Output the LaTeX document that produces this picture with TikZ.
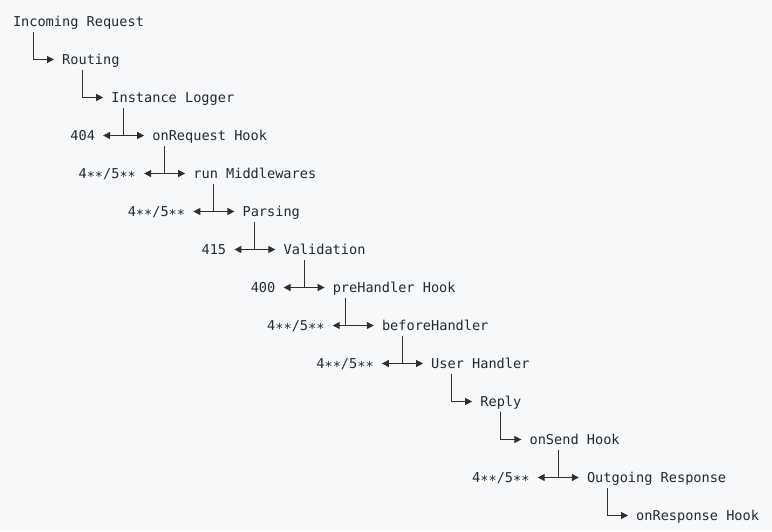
\documentclass[tikz,border=0pt]{standalone}
\usepackage{fontspec}
\newfontfamily\codefont{DejaVu Sans Mono}
\usetikzlibrary{arrows.meta,calc}
\definecolor{bgc}{HTML}{F6F8FA}
\definecolor{txt}{HTML}{24292E}
\definecolor{lnc}{HTML}{2F2F2F}
\newcommand\lowstar{\raisebox{-2.6pt}{*}}
\newcommand\errcode{4\lowstar\lowstar/5\lowstar\lowstar}
\tikzset{
  lbl/.style={anchor=base west,inner sep=0pt,outer sep=0pt,text=txt,font=\codefont\fontsize{13.6}{16}\selectfont},
  conn/.style={draw=lnc,line width=1.1pt},
  tip/.style={-{Triangle[length=7pt,width=7pt]}},
  dtip/.style={{Triangle[length=7pt,width=7pt]}-{Triangle[length=7pt,width=7pt]}}
}
\begin{document}
\begin{tikzpicture}[x=1pt,y=-1pt]
\fill[bgc] (0,0) rectangle (772,531);
\useasboundingbox (0,0) rectangle (772,531);
% column c -> x = 13 + 8.2 c ; row r -> baseline y = 26.5 + 38 r
\node[lbl] (n0) at (13,26.5) {Incoming Request};
\node[lbl] (n1) at (62.2,64.5) {Routing};
\node[lbl] (n2) at (111.4,102.5) {Instance Logger};
\node[lbl] (n3) at (152.4,140.5) {onRequest Hook};
\node[lbl] (l3) at (70.4,140.5) {404};
\node[lbl] (n4) at (193.4,178.5) {run Middlewares};
\node[lbl] (l4) at (78.6,178.5) {\errcode};
\node[lbl] (n5) at (242.6,216.5) {Parsing};
\node[lbl] (l5) at (127.8,216.5) {\errcode};
\node[lbl] (n6) at (283.6,254.5) {Validation};
\node[lbl] (l6) at (201.6,254.5) {415};
\node[lbl] (n7) at (332.8,292.5) {preHandler Hook};
\node[lbl] (l7) at (250.8,292.5) {400};
\node[lbl] (n8) at (382.0,330.5) {beforeHandler};
\node[lbl] (l8) at (267.2,330.5) {\errcode};
\node[lbl] (n9) at (431.2,368.5) {User Handler};
\node[lbl] (l9) at (316.4,368.5) {\errcode};
\node[lbl] (n10) at (480.4,406.5) {Reply};
\node[lbl] (n11) at (529.6,444.5) {onSend Hook};
\node[lbl] (n12) at (587.0,482.5) {Outgoing Response};
\node[lbl] (l12) at (472.2,482.5) {\errcode};
\node[lbl] (n13) at (636.2,520.5) {onResponse Hook};
% corner connectors
\draw[conn,tip] ($(n0.base west)+(20.5,5)$) |- ($(n1.base west)+(-8.2,-5)$);
\draw[conn,tip] ($(n1.base west)+(20.5,5)$) |- ($(n2.base west)+(-8.2,-5)$);
\draw[conn,tip] ($(n9.base west)+(20.5,5)$) |- ($(n10.base west)+(-8.2,-5)$);
\draw[conn,tip] ($(n10.base west)+(20.5,5)$) |- ($(n11.base west)+(-8.2,-5)$);
\draw[conn,tip] ($(n12.base west)+(20.5,5)$) |- ($(n13.base west)+(-8.2,-5)$);
% junction connectors
\foreach \up/\tg/\lb/\off in {n2/n3/l3/12.3, n3/n4/l4/12.3, n4/n5/l5/20.5, n5/n6/l6/12.3, n6/n7/l7/20.5, n7/n8/l8/12.3, n8/n9/l9/20.5, n11/n12/l12/28.7}{
  \coordinate (v\tg) at ($(\up.base west)+(\off,5)$);
  \coordinate (h\tg) at ($(\tg.base west)+(-8.2,-5)$);
  \draw[conn] (v\tg) -- (v\tg |- h\tg);
  \draw[conn,dtip] ($(\lb.base east)+(8.2,-5)$) -- (h\tg);
}
\end{tikzpicture}
\end{document}
